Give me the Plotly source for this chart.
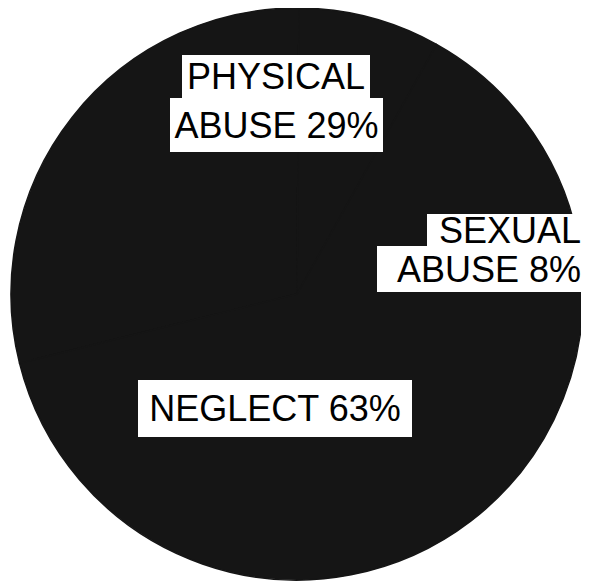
import plotly.graph_objects as go

categories = ["PHYSICAL ABUSE", "SEXUAL ABUSE", "NEGLECT"]
values = [29, 8, 63]

# The page body has an 8px margin, so the figure is sized to fill the rest of the window
OFF = 8
W, H = 589 - OFF, 582 - OFF

PIE = "#151515"

fig = go.Figure(go.Pie(
    labels=categories,
    values=values,
    sort=False,
    direction="clockwise",
    rotation=-104,
    marker=dict(colors=[PIE, PIE, PIE], line=dict(width=1.5, color=PIE)),
    textinfo="none",
    hoverinfo="none",
    showlegend=False,
    domain=dict(x=[(11 - OFF) / W, (583 - OFF) / W],
                y=[1 - (580 - OFF) / H, 1 - (8 - OFF) / H]),
))

FONT = dict(family="Liberation Sans, Arial, sans-serif", size=36, color="#000000")


def box(text, x0, x1, y0, y1, align="center"):
    x0, x1, y0, y1 = x0 - OFF, x1 - OFF, y0 - OFF, y1 - OFF
    return dict(
        text=text,
        xref="paper", yref="paper",
        x=(x0 + x1) / 2 / W, y=1 - (y0 + y1) / 2 / H,
        xanchor="center", yanchor="middle",
        width=x1 - x0, height=y1 - y0,
        align=align, valign="middle",
        bgcolor="#ffffff", borderpad=0, borderwidth=0,
        showarrow=False, font=FONT,
    )


annotations = [
    box("PHYSICAL", 182, 370, 55, 98),
    box("ABUSE 29%", 170, 383, 98, 152),
    box("SEXUAL", 427, 581, 214, 246, align="right"),
    box("ABUSE 8%", 377, 581, 246, 292, align="right"),
    box(f"{categories[2]} {values[2]}%", 138, 412, 380, 437),
]

fig.update_layout(
    width=W, height=H,
    margin=dict(l=0, r=0, t=0, b=0),
    paper_bgcolor="#ffffff",
    plot_bgcolor="#ffffff",
    annotations=annotations,
)

fig.write_html("out.html")
